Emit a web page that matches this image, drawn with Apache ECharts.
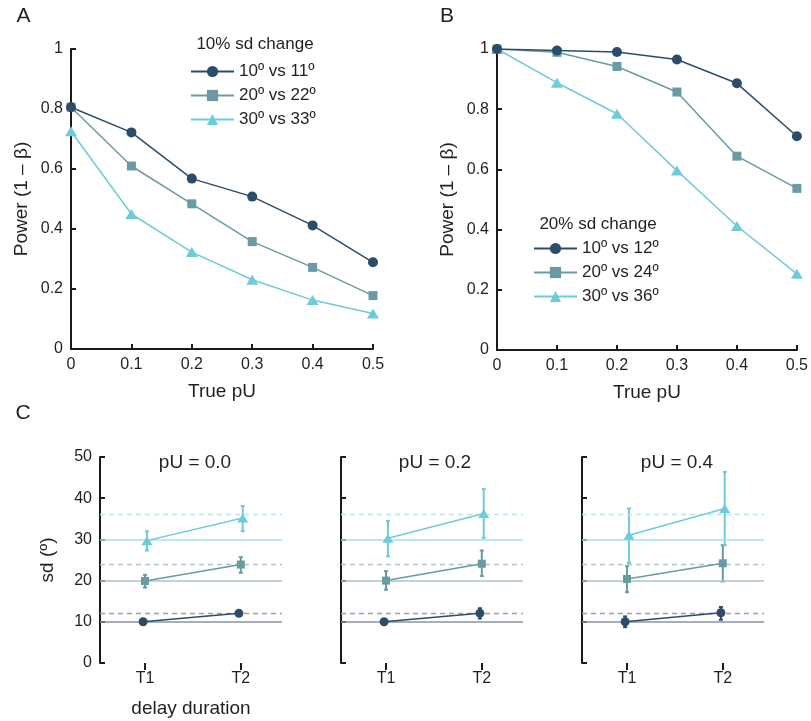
<!DOCTYPE html>
<html>
<head>
<meta charset="utf-8">
<script src="https://cdn.jsdelivr.net/npm/echarts@6/dist/echarts.min.js"></script>
<style>html,body{margin:0;padding:0;background:#fff}#c{width:811px;height:721px}</style>
</head>
<body>
<div id="c"></div>
<script>
// ---------- data ----------
const truePU = [0, 0.1, 0.2, 0.3, 0.4, 0.5];
const namesA = ['10º vs 11º', '20º vs 22º', '30º vs 33º'];
const powerA10 = [0.806, 0.722, 0.568, 0.508, 0.412, 0.289];
const powerA20 = [0.806, 0.610, 0.484, 0.358, 0.272, 0.178];
const powerA30 = [0.726, 0.450, 0.323, 0.231, 0.163, 0.118];
const namesB = ['10º vs 12º', '20º vs 24º', '30º vs 36º'];
const powerB10 = [1.000, 0.995, 0.990, 0.965, 0.886, 0.710];
const powerB20 = [1.000, 0.989, 0.942, 0.857, 0.644, 0.537];
const powerB30 = [1.000, 0.888, 0.785, 0.596, 0.412, 0.253];

const delayLabels = ['T1', 'T2'];
const panelTitles = ['pU = 0.0', 'pU = 0.2', 'pU = 0.4'];
const baseSD = [10, 20, 30];
const changedSD = [12, 24, 36];
// mean sd [T1, T2] per panel (pU = 0.0, 0.2, 0.4)
const sd10 = [[10.0, 12.05], [10.0, 12.1], [10.0, 12.2]];
const sd20 = [[19.9, 23.9], [20.0, 24.1], [20.4, 24.2]];
const sd30 = [[29.7, 35.2], [30.3, 36.3], [31.0, 37.5]];
// error bars [lo, hi] for [T1, T2]
const err10 = [[[9.6, 10.4], [11.6, 12.5]], [[9.5, 10.5], [10.8, 13.3]], [[8.7, 11.3], [10.5, 13.6]]];
const err20 = [[[18.3, 21.4], [21.9, 25.7]], [[17.8, 22.3], [21.1, 27.3]], [[17.2, 23.5], [19.8, 28.6]]];
const err30 = [[[27.3, 32.0], [32.0, 38.1]], [[25.9, 34.5], [30.4, 42.2]], [[24.3, 37.5], [28.6, 46.4]]];

// ---------- styles ----------
const FONT = '"Liberation Sans", Arial, Helvetica, sans-serif';
const TXT = '#231f20';
const AX = '#1a1a1a';
const COL = ['#2c4c6a', '#689ca2', '#6fcbd8'];
const REF_SOLID = ['#8a92a2', '#a8c4c6', '#a8dfe8'];
const REF_DASH = ['#9ba1ae', '#b0c6c6', '#b5e6ee'];
const SYM = ['circle', 'rect', 'triangle'];
const SYMSIZE_AB = [10, 9, [12, 10]];
const SYMSIZE_C = [9, 8, [11, 9]];
const XOFF = [-0.02, 0, 0.02];

const chart = echarts.init(document.getElementById('c'));

const grids = [
  {left: 71, top: 49, width: 302, height: 300},
  {left: 497, top: 49, width: 302, height: 301},
  {left: 100, top: 457, width: 182, height: 206},
  {left: 341, top: 457, width: 182, height: 206},
  {left: 582, top: 457, width: 182, height: 206}
];

const axLine = {show: true, lineStyle: {color: AX, width: 2}};
const axTick = {show: true, inside: true, length: 5, lineStyle: {color: AX, width: 2}};
const lbl = {color: TXT, fontSize: 16, fontFamily: FONT, margin: 8};
const nameStyle = {color: TXT, fontSize: 19, fontFamily: FONT};

const xAxes = [], yAxes = [];
for (let g = 0; g < 2; g++) {
  xAxes.push({gridIndex: g, type: 'value', min: 0, max: 0.5, interval: 0.1,
    axisLine: axLine, axisTick: axTick, axisLabel: lbl, splitLine: {show: false},
    name: 'True pU', nameLocation: 'middle', nameGap: 33, nameTextStyle: nameStyle});
  yAxes.push({gridIndex: g, type: 'value', min: 0, max: 1, interval: 0.2,
    axisLine: axLine, axisTick: axTick, axisLabel: lbl, splitLine: {show: false},
    name: 'Power (1 – β)', nameLocation: 'middle', nameGap: 40, nameTextStyle: nameStyle});
}
for (let p = 0; p < 3; p++) {
  const g = p + 2;
  xAxes.push({gridIndex: g, type: 'value', min: 0.53, max: 2.43,
    axisLine: {show: false},
    axisTick: {show: true, inside: false, length: 7, lineStyle: {color: AX, width: 2}, customValues: [1, 2]},
    axisLabel: Object.assign({}, lbl, {customValues: [1, 2], formatter: v => delayLabels[Math.round(v) - 1]}),
    splitLine: {show: false},
    name: p === 0 ? 'delay duration' : '', nameLocation: 'middle', nameGap: 36, nameTextStyle: nameStyle});
  yAxes.push({gridIndex: g, type: 'value', min: 0, max: 50, interval: 10,
    axisLine: axLine, axisTick: axTick,
    axisLabel: Object.assign({}, lbl, {show: p === 0}), splitLine: {show: false},
    name: p === 0 ? 'sd (º)' : '', nameLocation: 'middle', nameGap: 43, nameTextStyle: nameStyle});
}

const series = [];
function powerSeries(g, name, vals, k) {
  return {type: 'line', name: name, xAxisIndex: g, yAxisIndex: g,
    data: truePU.map((x, i) => [x, vals[i]]),
    symbol: SYM[k], symbolSize: SYMSIZE_AB[k], showSymbol: true,
    lineStyle: {color: COL[k], width: 1.5}, itemStyle: {color: COL[k]},
    emphasis: {disabled: true}, animation: false};
}
// draw cyan, teal, navy so navy sits on top
series.push(powerSeries(0, namesA[2], powerA30, 2));
series.push(powerSeries(0, namesA[1], powerA20, 1));
series.push(powerSeries(0, namesA[0], powerA10, 0));
series.push(powerSeries(1, namesB[2], powerB30, 2));
series.push(powerSeries(1, namesB[1], powerB20, 1));
series.push(powerSeries(1, namesB[0], powerB10, 0));

const sdAll = [sd10, sd20, sd30];
const errAll = [err10, err20, err30];
for (let p = 0; p < 3; p++) {
  const g = p + 2;
  // reference lines
  const ml = [];
  for (let k = 0; k < 3; k++) {
    ml.push({yAxis: baseSD[k], lineStyle: {color: REF_SOLID[k], width: 1.6, type: 'solid'}});
    ml.push({yAxis: changedSD[k], lineStyle: {color: REF_DASH[k], width: 1.4, type: [5, 4]}});
  }
  series.push({type: 'line', name: 'ref' + p, xAxisIndex: g, yAxisIndex: g, data: [], silent: true,
    markLine: {symbol: 'none', silent: true, label: {show: false}, animation: false, data: ml}});
  for (let k = 0; k < 3; k++) {
    const e = errAll[k][p];
    series.push({type: 'custom', name: 'err' + p + k, xAxisIndex: g, yAxisIndex: g, silent: true,
      data: [0, 1].map(t => [t + 1 + XOFF[k], e[t][0], e[t][1]]),
      renderItem: (params, api) => {
        const a = api.coord([api.value(0), api.value(1)]);
        const b = api.coord([api.value(0), api.value(2)]);
        const st = {stroke: COL[k], lineWidth: 2};
        return {type: 'group', children: [
          {type: 'line', shape: {x1: a[0], y1: a[1], x2: b[0], y2: b[1]}, style: st},
          {type: 'line', shape: {x1: a[0] - 2, y1: a[1], x2: a[0] + 2, y2: a[1]}, style: st},
          {type: 'line', shape: {x1: b[0] - 2, y1: b[1], x2: b[0] + 2, y2: b[1]}, style: st}
        ]};
      }, animation: false});
  }
  for (let k = 2; k >= 0; k--) {
    const m = sdAll[k][p];
    series.push({type: 'line', name: 'sd' + p + k, xAxisIndex: g, yAxisIndex: g,
      data: [0, 1].map(t => [t + 1 + XOFF[k], m[t]]),
      symbol: SYM[k], symbolSize: SYMSIZE_C[k], showSymbol: true,
      lineStyle: {color: COL[k], width: 1.5}, itemStyle: {color: COL[k]},
      emphasis: {disabled: true}, animation: false, z: 5});
  }
}

function txt(text, x, y, size) {
  return {type: 'text', x: x, y: y, silent: true,
    style: {text: text, fill: TXT, font: size + 'px ' + FONT, textAlign: 'center', textVerticalAlign: 'middle'}};
}

const legendCommon = {orient: 'vertical', itemWidth: 43, itemHeight: 14, itemGap: 7, padding: 0,
  textStyle: {color: TXT, fontSize: 17, fontFamily: FONT}, selectedMode: false};

chart.setOption({
  animation: false,
  backgroundColor: '#ffffff',
  grid: grids,
  xAxis: xAxes,
  yAxis: yAxes,
  series: series,
  legend: [
    Object.assign({}, legendCommon, {left: 190, top: 63, data: namesA}),
    Object.assign({}, legendCommon, {left: 533, top: 240, data: namesB})
  ],
  graphic: [
    txt('A', 23.5, 16, 21),
    txt('B', 447, 16, 21),
    txt('C', 23, 413, 21),
    txt('10% sd change', 255, 44, 17),
    txt('20% sd change', 598, 224, 17),
    txt(panelTitles[0], 195, 463, 19),
    txt(panelTitles[1], 435, 463, 19),
    txt(panelTitles[2], 677, 463, 19)
  ]
});
</script>
</body>
</html>
